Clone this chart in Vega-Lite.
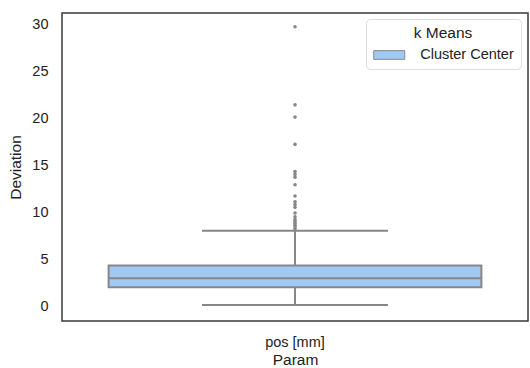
{
  "$schema": "https://vega.github.io/schema/vega-lite/v6.json",
  "autosize": {"type": "none"},
  "width": 466,
  "height": 308,
  "padding": {"left": 62, "top": 13, "right": 2, "bottom": 47},
  "background": "white",
  "config": {
    "font": "Liberation Sans",
    "view": {"stroke": "#3a3a3a", "strokeWidth": 1.5},
    "axis": {
      "grid": false, "ticks": false, "domain": false,
      "labelFont": "Liberation Sans", "titleFont": "Liberation Sans",
      "labelFontSize": 14.5, "titleFontSize": 15.5, "labelColor": "#222", "titleColor": "#222",
      "titleFontWeight": "normal"
    }
  },
  "datasets": {
    "stats": [
      {"param": "pos [mm]", "hue": "Cluster Center", "lower": 0.2, "q1": 2.1, "median": 3.05, "q3": 4.4, "upper": 8.1}
    ],
    "outliers": [
      {"param": "pos [mm]", "value": 8.3},
      {"param": "pos [mm]", "value": 8.5},
      {"param": "pos [mm]", "value": 8.7},
      {"param": "pos [mm]", "value": 8.9},
      {"param": "pos [mm]", "value": 9.1},
      {"param": "pos [mm]", "value": 9.3},
      {"param": "pos [mm]", "value": 9.6},
      {"param": "pos [mm]", "value": 10.0},
      {"param": "pos [mm]", "value": 10.6},
      {"param": "pos [mm]", "value": 10.9},
      {"param": "pos [mm]", "value": 11.2},
      {"param": "pos [mm]", "value": 11.8},
      {"param": "pos [mm]", "value": 13.0},
      {"param": "pos [mm]", "value": 13.8},
      {"param": "pos [mm]", "value": 14.1},
      {"param": "pos [mm]", "value": 14.4},
      {"param": "pos [mm]", "value": 17.3},
      {"param": "pos [mm]", "value": 20.2},
      {"param": "pos [mm]", "value": 21.5},
      {"param": "pos [mm]", "value": 29.8}
    ]
  },
  "encoding": {
    "x": {
      "field": "param", "type": "nominal", "title": "Param",
      "scale": {"paddingInner": 0, "paddingOuter": 0.125},
      "axis": {"labelAngle": 0, "labelPadding": 14, "titlePadding": 4}
    }
  },
  "layer": [
    {
      "data": {"name": "stats"},
      "mark": {"type": "rule", "color": "#878787", "strokeWidth": 2},
      "encoding": {
        "y": {"field": "lower", "type": "quantitative", "title": "Deviation",
          "scale": {"domain": [-1.49, 31.27], "nice": false, "zero": false},
          "axis": {"values": [0, 5, 10, 15, 20, 25, 30], "labelPadding": 14, "titlePadding": 8}},
        "y2": {"field": "q1"}
      }
    },
    {
      "data": {"name": "stats"},
      "mark": {"type": "rule", "color": "#878787", "strokeWidth": 2},
      "encoding": {
        "y": {"field": "q3", "type": "quantitative"},
        "y2": {"field": "upper"}
      }
    },
    {
      "data": {"name": "stats"},
      "mark": {"type": "tick", "color": "#878787", "size": 186, "thickness": 2, "opacity": 1},
      "encoding": {"y": {"field": "lower", "type": "quantitative"}}
    },
    {
      "data": {"name": "stats"},
      "mark": {"type": "tick", "color": "#878787", "size": 186, "thickness": 2, "opacity": 1},
      "encoding": {"y": {"field": "upper", "type": "quantitative"}}
    },
    {
      "data": {"name": "stats"},
      "mark": {"type": "bar", "stroke": "#878787", "strokeWidth": 2, "opacity": 1, "width": {"band": 1}},
      "encoding": {
        "y": {"field": "q1", "type": "quantitative"},
        "y2": {"field": "q3"},
        "color": {
          "field": "hue", "type": "nominal",
          "scale": {"range": ["#a1c9f4"]},
          "legend": {
            "title": "k Means",
            "orient": "none", "legendX": 304, "legendY": 6,
            "direction": "vertical",
            "titleFontSize": 15.5, "titleFontWeight": "normal", "titleColor": "#222",
            "titleAlign": "center", "titleAnchor": "middle", "titlePadding": 5,
            "labelFontSize": 14.5, "labelColor": "#222", "labelOffset": 22.5,
            "symbolType": "M-2,-0.56H2V0.56H-2Z", "symbolSize": 240, "symbolOffset": 7.75,
            "symbolStrokeColor": "#878787", "symbolStrokeWidth": 1, "symbolFillColor": "#a1c9f4",
            "padding": 7, "fillColor": "white", "strokeColor": "#dddddd", "cornerRadius": 4
          }
        }
      }
    },
    {
      "data": {"name": "stats"},
      "mark": {"type": "tick", "color": "#878787", "size": 372, "thickness": 2, "opacity": 1},
      "encoding": {"y": {"field": "median", "type": "quantitative"}}
    },
    {
      "data": {"name": "outliers"},
      "mark": {"type": "point", "filled": true, "shape": "circle", "color": "#878787", "size": 13, "opacity": 1},
      "encoding": {"y": {"field": "value", "type": "quantitative"}}
    }
  ]
}
